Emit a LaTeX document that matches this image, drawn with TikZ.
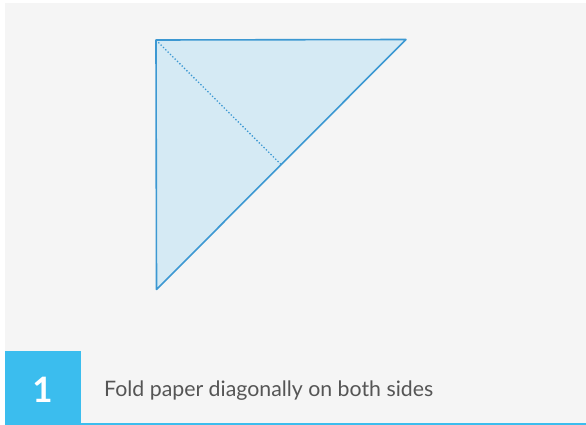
\documentclass[tikz,border=0pt]{standalone}
\usepackage{fontspec}
\setmainfont{Lato}
\definecolor{bg}{HTML}{F5F5F5}
\definecolor{stepblue}{HTML}{3BBDEE}
\definecolor{edge}{HTML}{3C98D2}
\definecolor{paper}{HTML}{D5EAF4}
\definecolor{txt}{HTML}{555555}
\begin{document}
\begin{tikzpicture}[x=1pt,y=-1pt,
  fold/.style={draw=edge,line width=1.6pt,fill=paper,line join=round},
  crease/.style={draw=edge,line width=1.3pt,dotted},
  numbox/.style={fill=stepblue,draw=none},
  caption/.style={anchor=base west,inner sep=0pt,text=txt,font=\fontsize{21.3}{24}\selectfont}]
\useasboundingbox (0,0) rectangle (586,425);
\fill[white] (0,0) rectangle (586,425);
\fill[bg] (4.5,3) rectangle (585.5,425);
\coordinate (tl) at (156,40);
\coordinate (tr) at (406,39.5);
\coordinate (bl) at (156.5,289.5);
\coordinate (mid) at (281,164.5);
\path[fold] (tl) -- (tr) -- (bl) -- cycle;
\draw[crease] (tl) -- (mid);
\fill[stepblue] (4.5,422.5) rectangle (586,425);
\path[numbox] (4.5,351) rectangle (81,425);
\node[text=white,font=\fontsize{35}{40}\selectfont\bfseries,inner sep=0pt] (num) at (42.5,390) {1};
\node[caption] (cap) at (104,396.5) {Fold paper diagonally on both sides};
\end{tikzpicture}
\end{document}
